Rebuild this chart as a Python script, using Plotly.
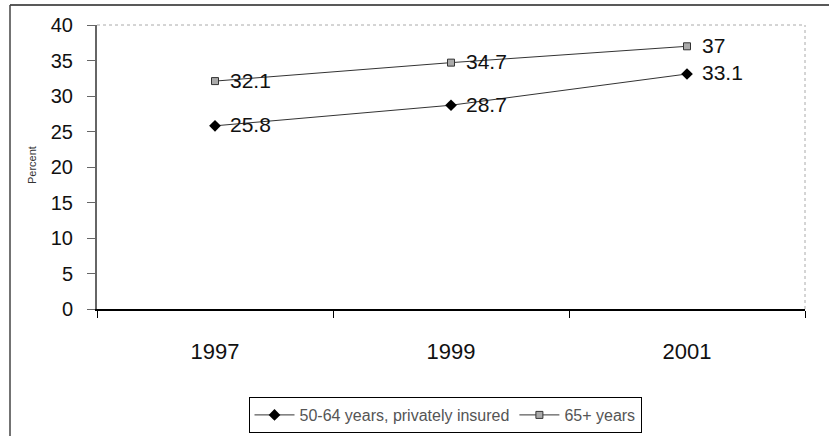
import plotly.graph_objects as go

years = ["1997", "1999", "2001"]
private_50_64 = [25.8, 28.7, 33.1]
age_65_plus = [32.1, 34.7, 37]
y_ticks = [0, 5, 10, 15, 20, 25, 30, 35, 40]

FONT = "Liberation Sans, Arial, sans-serif"

fig = go.Figure()

fig.add_trace(go.Scatter(
    x=years, y=private_50_64, mode="lines+markers",
    name="50-64 years, privately insured",
    line=dict(color="#333333", width=1),
    marker=dict(symbol="diamond", size=9, color="#000000"),
))
fig.add_trace(go.Scatter(
    x=years, y=age_65_plus, mode="lines+markers",
    name="65+ years",
    line=dict(color="#333333", width=1),
    marker=dict(symbol="square", size=7, color="#aaaaaa",
                line=dict(color="#333333", width=1)),
))

annotations = []
for vals in (private_50_64, age_65_plus):
    for i, v in enumerate(vals):
        annotations.append(dict(
            x=i, y=v, xref="x", yref="y", text=f"{v:g}",
            xanchor="left", yanchor="middle", xshift=13, yshift=1, showarrow=False,
            font=dict(family=FONT, size=21, color="#111111"),
        ))

L, R, T, B = 97, 24, 25, 127
W, H = 829, 436
pw, ph = W - L - R, H - T - B
bottom_px = H - B

annotations.append(dict(
    text="Percent", textangle=-90, xref="paper", yref="paper",
    x=(32 - L) / pw, y=(bottom_px - 165) / ph, xanchor="center", yanchor="middle",
    showarrow=False, font=dict(family=FONT, size=11, color="#333333"),
))

fig.update_layout(
    width=W, height=H,
    margin=dict(l=L, r=R, t=T, b=B, autoexpand=False),
    paper_bgcolor="white", plot_bgcolor="white",
    font=dict(family=FONT, size=18, color="#111111"),
    showlegend=True,
    legend=dict(
        orientation="h", x=(445 - L) / pw, y=(bottom_px - 397) / ph,
        xanchor="center", yanchor="top",
        bordercolor="#000000", borderwidth=1, bgcolor="white",
        font=dict(family=FONT, size=16, color="#555555"),
        itemwidth=40,
    ),
    xaxis=dict(
        type="category", range=[-0.5, 2.5],
        tickson="boundaries", ticks="outside", ticklen=7, tickcolor="#000000",
        showline=True, linecolor="#000000", linewidth=1.5,
        showgrid=False, zeroline=False,
        ticklabelstandoff=22,
        tickfont=dict(family=FONT, size=22, color="#111111"),
    ),
    yaxis=dict(
        range=[0, 40], tickvals=y_ticks,
        ticks="outside", ticklen=8, tickcolor="#666666",
        showline=True, linecolor="#666666", linewidth=2,
        showgrid=False, zeroline=False,
        ticklabelstandoff=10,
        tickfont=dict(family=FONT, size=20, color="#111111"),
    ),
    annotations=annotations,
    shapes=[
        dict(type="line", xref="paper", yref="paper", x0=0, x1=1, y0=1, y1=1,
             line=dict(color="#aaaaaa", width=1, dash="dot")),
        dict(type="line", xref="paper", yref="paper", x0=1, x1=1, y0=0, y1=1,
             line=dict(color="#aaaaaa", width=1, dash="dot")),
        dict(type="line", xref="paper", yref="paper",
             x0=(10 - L) / pw, x1=(829 - L) / pw,
             y0=1 + (T - 5) / ph, y1=1 + (T - 5) / ph,
             line=dict(color="#222222", width=1.5)),
        dict(type="line", xref="paper", yref="paper",
             x0=(10 - L) / pw, x1=(10 - L) / pw,
             y0=1 + (T - 5) / ph, y1=(bottom_px - 436) / ph,
             line=dict(color="#444444", width=1.5)),
    ],
)

fig.write_html("out.html")
